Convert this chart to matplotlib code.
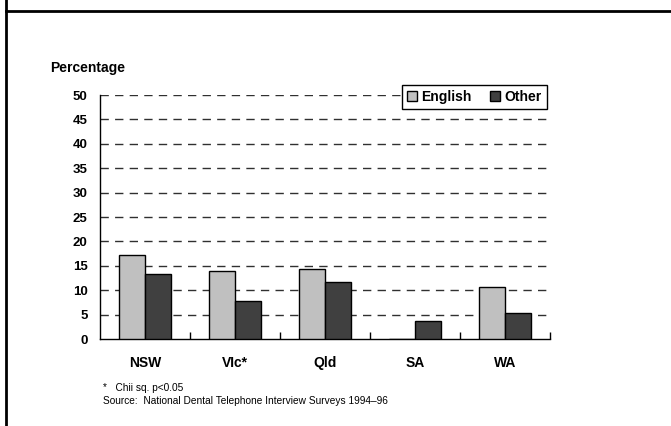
import numpy as np
import matplotlib.pyplot as plt
from matplotlib.lines import Line2D

plt.rcParams['font.family'] = ['Liberation Sans', 'DejaVu Sans']

states = ['NSW', 'VIc*', 'Qld', 'SA', 'WA']
english = [17.3, 13.9, 14.3, 0.0, 10.7]
other = [13.4, 7.8, 11.7, 3.6, 5.4]
yticks = np.arange(0, 55, 5)

fig = plt.figure(figsize=(6.71, 4.26), dpi=100)
ax = fig.add_axes([100/671, 1-339/426, 450/671, 244/426])

x = np.arange(len(states))
w = 0.29
ax.bar(x - w/2, english, w, color='#c0c0c0', edgecolor='black', linewidth=1, label='English', zorder=3)
ax.bar(x + w/2, other, w, color='#404040', edgecolor='black', linewidth=1, label='Other', zorder=3)

# dashed gridlines
for v in yticks[1:]:
    ax.axhline(v, color='#303030', linestyle=(0, (6, 4.5)), linewidth=1, zorder=1)

ax.set_xlim(-0.5, len(states) - 0.5)
ax.set_ylim(0, 50)
ax.set_yticks(yticks)
ax.set_xticks(x)
ax.set_xticklabels(states, fontsize=10, fontweight='bold')
ax.set_xticks(np.arange(len(states)) + 0.5, minor=True)
ax.tick_params(axis='x', which='major', length=0, pad=12)
ax.tick_params(axis='x', which='minor', direction='in', length=5, width=1)
ax.tick_params(axis='y', length=0, pad=9, labelsize=9.5)
for lab in ax.get_yticklabels():
    lab.set_fontweight('bold')

ax.spines['top'].set_visible(False)
ax.spines['right'].set_visible(False)
ax.spines['left'].set_linewidth(1)
ax.spines['bottom'].set_linewidth(1)

leg = ax.legend(loc='upper right', bbox_to_anchor=(1.008, 1.068), ncol=2, frameon=True, fancybox=False,
                edgecolor='black', prop={'weight': 'bold', 'size': 10},
                handlelength=0.75, handleheight=0.75, handletextpad=0.3, columnspacing=1.3,
                borderpad=0.35, framealpha=1)
leg.get_frame().set_linewidth(1)
leg.set_zorder(5)

fig.text(50/671, 1-68/426, 'Percentage', fontsize=10, fontweight='bold', va='center', ha='left')
fig.text(103/671, 1-388/426, '*   Chii sq. p<0.05', fontsize=7.3, va='center', ha='left')
fig.text(103/671, 1-401/426, 'Source:  National Dental Telephone Interview Surveys 1994\u201396',
         fontsize=7.3, va='center', ha='left')

# outer frame lines
fig.add_artist(Line2D([6/671, 6/671], [0, 1], transform=fig.transFigure, color='black', linewidth=2))
fig.add_artist(Line2D([6/671, 1], [1-11/426, 1-11/426], transform=fig.transFigure, color='black', linewidth=2))

fig.savefig('out.png', dpi=100)
